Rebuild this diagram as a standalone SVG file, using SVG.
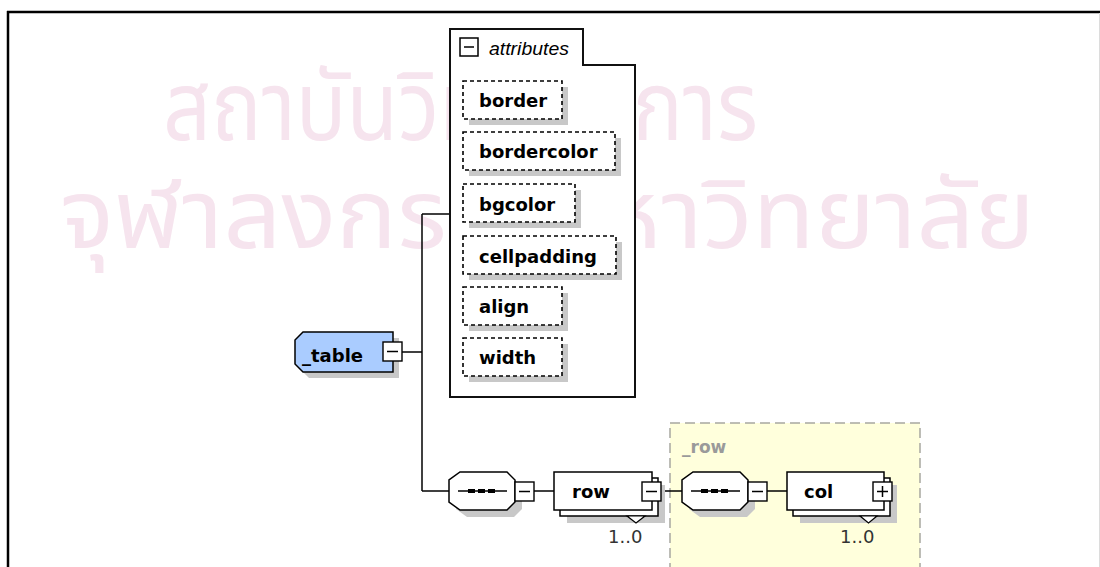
<svg xmlns="http://www.w3.org/2000/svg" width="1100" height="567" viewBox="0 0 1100 567">
  <defs>
    <style>
      .frame { stroke: #000; stroke-width: 2.5; fill: none; }
      .conn { stroke: #000; stroke-width: 1.5; fill: none; }
      .shadow { fill: #c8c8c8; stroke: none; }
      .attr { fill: #fff; stroke: #000; stroke-width: 1.6; stroke-dasharray: 4 3; }
      .box { fill: #fff; stroke: #000; stroke-width: 1.5; }
      .btn { fill: #fff; stroke: #000; stroke-width: 1.4; }
      .lbl { font-family: "DejaVu Sans", "Liberation Sans", sans-serif; font-weight: bold; font-size: 18px; fill: #000; }
      .occ { font-family: "DejaVu Sans", "Liberation Sans", sans-serif; font-size: 18px; fill: #333; }
      .wm { font-family: "Noto Sans Thai", "Loma", "Garuda", "Norasi", "Tlwg Typo", sans-serif; fill: #f6e4ee; }
    </style>
    <!-- sequence compositor shape (octagon) -->
    <path id="seqShape" d="M11,0 H58 L66,8 V30 L58,38 H11 L0,30 V8 Z"/>
    <!-- minus button -->
    <g id="minusBtn">
      <rect class="btn" x="0" y="0" width="19" height="19"/>
      <line x1="4" y1="9.5" x2="15" y2="9.5" stroke="#000" stroke-width="1.5"/>
    </g>
    <g id="plusBtn">
      <rect class="btn" x="0" y="0" width="19" height="19"/>
      <line x1="4" y1="9.5" x2="15" y2="9.5" stroke="#000" stroke-width="1.5"/>
      <line x1="9.5" y1="4" x2="9.5" y2="15" stroke="#000" stroke-width="1.5"/>
    </g>
  </defs>

  <rect x="0" y="0" width="1100" height="567" fill="#fff"/>

  <!-- background watermark -->
  <g id="watermark">
    <text class="wm" x="163" y="140" font-size="96" textLength="595" lengthAdjust="spacingAndGlyphs">สถาบันวิทยบริการ</text>
    <text class="wm" x="60" y="248" font-size="96" textLength="975" lengthAdjust="spacingAndGlyphs">จุฬาลงกรณ์มหาวิทยาลัย</text>
  </g>

  <!-- page frame -->
  <g id="frame">
    <line class="frame" x1="7" y1="12" x2="1100" y2="12"/>
    <line class="frame" x1="8" y1="11" x2="8" y2="567"/>
    <line x1="1099.5" y1="13" x2="1099.5" y2="567" stroke="#dcdcdc" stroke-width="1"/>
  </g>

  <!-- yellow group area for _row -->
  <g id="group_row">
    <rect x="670" y="423" width="250" height="170" fill="#ffffdc" stroke="#a8a8a0" stroke-width="1.5" stroke-dasharray="10 5"/>
    <text x="682" y="453" font-family="DejaVu Sans, sans-serif" font-weight="bold" font-size="17" fill="#9a9a9a">_row</text>
  </g>

  <!-- connectors -->
  <g id="connectors">
    <line class="conn" x1="402" y1="352" x2="422" y2="352"/>
    <line class="conn" x1="422" y1="214" x2="422" y2="491"/>
    <line class="conn" x1="422" y1="214" x2="450" y2="214"/>
    <line class="conn" x1="422" y1="491" x2="449" y2="491"/>
    <line class="conn" x1="534" y1="491" x2="554" y2="491"/>
    <line class="conn" x1="661" y1="491" x2="682" y2="491"/>
    <line class="conn" x1="767" y1="491" x2="787" y2="491"/>
  </g>

  <!-- element _table -->
  <g id="node_table">
    <path class="shadow" d="M309,338 H399 V378 H309 L301,370 V346 Z"/>
    <path d="M303,332 H393 V372 H303 L295,364 V340 Z" fill="#aaccff" stroke="#000" stroke-width="1.5"/>
    <text class="lbl" x="302" y="362">_table</text>
    <use href="#minusBtn" x="383" y="342"/>
  </g>

  <!-- attributes container -->
  <g id="node_attributes">
    <path d="M450,29 H583 V65 H635 V397 H450 Z" fill="#fff" stroke="#111" stroke-width="2"/>
    <rect x="460" y="38" width="18" height="18" fill="#fff" stroke="#000" stroke-width="1.5"/>
    <line x1="464" y1="47" x2="474" y2="47" stroke="#000" stroke-width="1.5"/>
    <text x="489" y="55" font-family="Liberation Sans, Arial, sans-serif" font-style="italic" font-size="18" textLength="80" lengthAdjust="spacingAndGlyphs">attributes</text>
  </g>

  <g id="attr_border">
    <rect class="shadow" x="469" y="87" width="99" height="38"/>
    <rect class="attr" x="463" y="81" width="99" height="38"/>
    <text class="lbl" x="479" y="107">border</text>
  </g>
  <g id="attr_bordercolor">
    <rect class="shadow" x="469" y="138" width="152" height="38"/>
    <rect class="attr" x="463" y="132" width="152" height="38"/>
    <text class="lbl" x="479" y="158">bordercolor</text>
  </g>
  <g id="attr_bgcolor">
    <rect class="shadow" x="469" y="190" width="112" height="38"/>
    <rect class="attr" x="463" y="184" width="112" height="38"/>
    <text class="lbl" x="479" y="211">bgcolor</text>
  </g>
  <g id="attr_cellpadding">
    <rect class="shadow" x="469" y="242" width="153" height="38"/>
    <rect class="attr" x="463" y="236" width="153" height="38"/>
    <text class="lbl" x="479" y="263">cellpadding</text>
  </g>
  <g id="attr_align">
    <rect class="shadow" x="469" y="293" width="99" height="38"/>
    <rect class="attr" x="463" y="287" width="99" height="38"/>
    <text class="lbl" x="479" y="313">align</text>
  </g>
  <g id="attr_width">
    <rect class="shadow" x="469" y="344" width="99" height="38"/>
    <rect class="attr" x="463" y="338" width="99" height="38"/>
    <text class="lbl" x="479" y="364">width</text>
  </g>

  <!-- sequence compositor -->
  <g id="node_seq1">
    <use href="#seqShape" x="456" y="479" class="shadow"/>
    <use href="#seqShape" x="449" y="472" fill="#fff" stroke="#000" stroke-width="1.5"/>
    <line x1="458" y1="491" x2="507" y2="491" stroke="#000" stroke-width="1.5"/>
    <rect x="468" y="489" width="7" height="4"/>
    <rect x="478" y="489" width="7" height="4"/>
    <rect x="488" y="489" width="7" height="4"/>
    <use href="#minusBtn" x="515" y="482"/>
  </g>

  <!-- element row -->
  <g id="node_row">
    <rect class="shadow" x="567" y="485" width="98" height="38"/>
    <rect class="box" x="560" y="478" width="98" height="38"/>
    <rect class="box" x="554" y="472" width="98" height="38"/>
    <path d="M627,516 H645 L636,523 Z" fill="#fff" stroke="#000" stroke-width="1.2"/>
    <text class="lbl" x="572" y="498">row</text>
    <use href="#minusBtn" x="642" y="482"/>
    <text class="occ" x="608" y="543">1..0</text>
  </g>

  <!-- sequence compositor inside _row -->
  <g id="node_seq2">
    <use href="#seqShape" x="689" y="479" class="shadow"/>
    <use href="#seqShape" x="682" y="472" fill="#fff" stroke="#000" stroke-width="1.5"/>
    <line x1="691" y1="491" x2="740" y2="491" stroke="#000" stroke-width="1.5"/>
    <rect x="701" y="489" width="7" height="4"/>
    <rect x="711" y="489" width="7" height="4"/>
    <rect x="721" y="489" width="7" height="4"/>
    <use href="#minusBtn" x="748" y="482"/>
  </g>

  <!-- element col -->
  <g id="node_col">
    <rect class="shadow" x="800" y="485" width="97" height="38"/>
    <rect class="box" x="793" y="478" width="97" height="38"/>
    <rect class="box" x="787" y="472" width="97" height="38"/>
    <path d="M860,516 H877 L868.5,523 Z" fill="#fff" stroke="#000" stroke-width="1.2"/>
    <text class="lbl" x="804" y="498">col</text>
    <use href="#plusBtn" x="873" y="482"/>
    <text class="occ" x="840" y="543">1..0</text>
  </g>
</svg>
